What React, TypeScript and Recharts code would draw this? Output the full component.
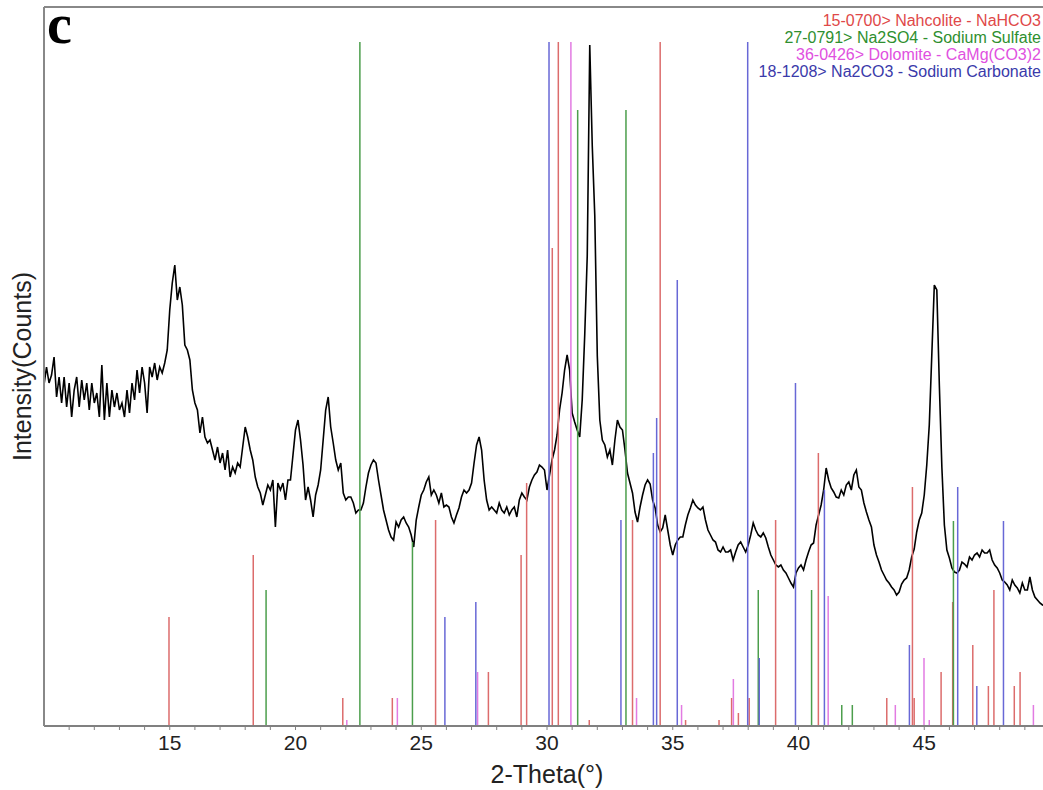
import React from 'react';
import { LineChart, Line, XAxis, YAxis, ReferenceLine } from 'recharts';

// scan: 2-theta from 10.0 in steps of 0.1 deg, counts
const SCAN_START = 10;
const SCAN_STEP = 0.1;
const counts = [
  341, 359, 343, 351, 369, 329, 349, 323, 349, 319,
  343, 309, 336, 349, 319, 346, 326, 343, 316, 343,
  323, 333, 309, 361, 306, 343, 309, 336, 319, 333,
  316, 323, 309, 336, 313, 343, 326, 356, 333, 359,
  343, 313, 359, 349, 363, 346, 359, 353, 363, 376,
  416, 443, 461, 426, 439, 421, 381, 376, 366, 336,
  323, 316, 293, 309, 289, 283, 286, 276, 266, 279,
  263, 273, 256, 276, 249, 259, 253, 263, 259, 279,
  299, 289, 276, 266, 249, 239, 233, 221, 231, 241,
  236, 246, 199, 243, 236, 243, 226, 246, 246, 271,
  296, 306, 286, 261, 226, 239, 226, 209, 231, 241,
  256, 286, 316, 329, 299, 283, 266, 256, 263, 233,
  226, 229, 229, 223, 213, 216, 216, 223, 239, 253,
  261, 266, 263, 246, 231, 216, 206, 196, 189, 186,
  204, 199, 206, 209, 203, 199, 191, 179, 206, 219,
  231, 236, 244, 249, 231, 236, 231, 223, 233, 219,
  221, 219, 209, 203, 211, 218, 229, 236, 233, 236,
  243, 263, 281, 289, 276, 246, 226, 216, 219, 216,
  213, 223, 216, 213, 219, 211, 216, 219, 209, 226,
  233, 229, 226, 239, 246, 251, 254, 261, 259, 256,
  236, 251, 266, 276, 291, 316, 333, 356, 371, 356,
  313, 304, 296, 289, 326, 391, 470, 681, 580, 510,
  370, 306, 286, 281, 269, 276, 261, 286, 306, 299,
  296, 276, 253, 243, 233, 214, 204, 219, 231, 241,
  246, 242, 226, 218, 201, 194, 198, 211, 196, 181,
  171, 181, 186, 189, 189, 201, 211, 218, 226, 221,
  218, 216, 219, 206, 196, 191, 186, 184, 176, 174,
  179, 174, 174, 176, 166, 174, 181, 184, 179, 174,
  181, 191, 203, 196, 191, 189, 193, 188, 179, 171,
  166, 161, 159, 161, 156, 153, 148, 143, 139, 153,
  158, 161, 156, 166, 174, 181, 183, 201, 211, 221,
  236, 258, 246, 238, 234, 229, 228, 236, 231, 241,
  244, 236, 251, 256, 239, 236, 223, 214, 206, 199,
  181, 171, 164, 156, 151, 146, 143, 139, 136, 131,
  134, 142, 146, 148, 156, 169, 177, 194, 206, 213,
  231, 261, 301, 371, 441, 436, 341, 259, 201, 176,
  168, 158, 154, 153, 156, 164, 162, 159, 169, 166,
  171, 173, 169, 176, 173, 173, 176, 166, 161, 158,
  153, 146, 144, 141, 136, 146, 141, 138, 133, 143,
  136, 136, 149, 136, 129, 126, 123, 121, 120, 122,
];

// reference patterns: [2-theta, stick height]
const nahcolite = [
  [14.97, 109], [18.32, 171], [21.88, 28], [23.85, 28], [25.57, 206],
  [27.67, 54], [28.97, 171], [29.19, 243], [30.21, 478], [30.45, 684],
  [31.68, 6], [33.4, 206], [34.5, 684], [35.51, 6], [36.84, 6],
  [37.34, 28], [37.61, 13], [38.04, 28], [39.09, 206], [40.79, 273],
  [43.51, 28], [44.53, 239], [44.6, 28], [45.67, 54], [46.13, 124],
  [46.93, 81], [47.55, 40], [47.77, 136], [48.58, 40], [48.81, 54],
];
const sodiumSulfate = [
  [18.83, 136], [22.56, 684], [24.65, 184], [31.22, 616], [33.14, 616],
  [38.4, 136], [40.52, 136], [41.72, 21], [42.14, 21], [46.16, 205],
];
const dolomite = [
  [22.04, 6], [24.05, 28], [27.24, 54], [30.95, 684], [33.56, 28],
  [35.35, 21], [37.41, 47], [41.18, 130], [43.85, 21], [44.99, 68],
  [45.2, 6], [49.34, 21],
];
const sodiumCarbonate = [
  [25.94, 109], [27.17, 124], [30.08, 684], [32.94, 206], [34.23, 273],
  [34.36, 308], [35.18, 446], [37.98, 684], [38.44, 68], [39.88, 343],
  [41.03, 236], [44.41, 81], [46.33, 239], [47.09, 40], [48.15, 205],
];

const xTicks = [11, 12, 13, 14, 15, 16, 17, 18, 19, 20, 21, 22, 23, 24, 25, 26, 27, 28, 29, 30,
  31, 32, 33, 34, 35, 36, 37, 38, 39, 40, 41, 42, 43, 44, 45, 46, 47, 48, 49];

const phases = [
  { label: '15-0700> Nahcolite - NaHCO3', stick: '#dc6c6c', text: '#e04848', peaks: nahcolite },
  { label: '27-0791> Na2SO4 - Sodium Sulfate', stick: '#4c9e4c', text: '#2f8f2f', peaks: sodiumSulfate },
  { label: '36-0426> Dolomite - CaMg(CO3)2', stick: '#e27be2', text: '#e050e0', peaks: dolomite },
  { label: '18-1208> Na2CO3 - Sodium Carbonate', stick: '#6868d6', text: '#3a3aaa', peaks: sodiumCarbonate },
];

const scan = counts.map((c, i) => ({
  tt: Math.round((SCAN_START + i * SCAN_STEP) * 100) / 100,
  counts: c,
}));

const FONT = '"Liberation Sans", Arial, sans-serif';

const XTitle = (props: any) => {
  const vb = props.viewBox || { x: 44, y: 726, width: 1006, height: 30 };
  return (
    <text x={vb.x + vb.width / 2} y={vb.y + vb.height + 27} textAnchor="middle"
      fontFamily={FONT} fontSize={25} fill="#222">
      2-Theta(°)
    </text>
  );
};

const YTitle = (props: any) => {
  const vb = props.viewBox || { x: 0, y: 7, width: 44, height: 719 };
  const cx = 31;
  const cy = vb.y + vb.height / 2;
  return (
    <text x={cx} y={cy} transform={`rotate(-90, ${cx}, ${cy})`} textAnchor="middle"
      fontFamily={FONT} fontSize={25} fill="#222">
      Intensity(Counts)
    </text>
  );
};

export default function App() {
  return (
    <div style={{ position: 'absolute', left: 0, top: 0, width: 1043, height: 790, overflow: 'hidden', background: '#fff' }}>
      <LineChart width={1062} height={790} data={scan} margin={{ top: 7, right: 12, bottom: 34, left: 0 }}>
        <XAxis
          dataKey="tt"
          type="number"
          domain={[10, 50]}
          ticks={xTicks}
          interval={0}
          allowDataOverflow
          tickFormatter={(v: number) => (v % 5 === 0 ? String(v) : '')}
          tick={{ fontSize: 21, fill: '#222', fontFamily: FONT }}
          tickSize={4}
          tickMargin={5}
          tickLine={{ stroke: '#808080' }}
          axisLine={{ stroke: '#808080', strokeWidth: 2 }}
          height={30}
          label={<XTitle />}
        />
        <YAxis
          type="number"
          domain={[0, 719]}
          allowDataOverflow
          tick={false}
          tickLine={false}
          width={44}
          axisLine={{ stroke: '#888', strokeWidth: 2 }}
          label={<YTitle />}
        />
        <ReferenceLine y={719} stroke="#888" strokeWidth={2} />
        <Line
          type="linear"
          dataKey="counts"
          stroke="#000"
          strokeWidth={1.6}
          dot={false}
          isAnimationActive={false}
        />
        {phases.flatMap((p) =>
          p.peaks.map(([t, h]) => (
            <ReferenceLine
              key={`${p.label}-${t}`}
              segment={[{ x: t, y: 0 }, { x: t, y: h }]}
              stroke={p.stick}
              strokeWidth={1.5}
            />
          ))
        )}
      </LineChart>
      <div
        style={{
          position: 'absolute', left: 47, top: 9, height: 30, lineHeight: '30px',
          fontFamily: '"Liberation Serif", "Times New Roman", serif', fontWeight: 'bold',
          fontSize: 56, color: '#000', pointerEvents: 'none',
        }}
      >
        c
      </div>
      <svg width={1043} height={790} style={{ position: 'absolute', left: 0, top: 0, pointerEvents: 'none' }}>
        {phases.map((p, i) => (
          <text key={p.label} x={1041} y={25.5 + i * 17} textAnchor="end" fontFamily={FONT} fontSize={16} fill={p.text}>
            {p.label}
          </text>
        ))}
      </svg>
    </div>
  );
}
